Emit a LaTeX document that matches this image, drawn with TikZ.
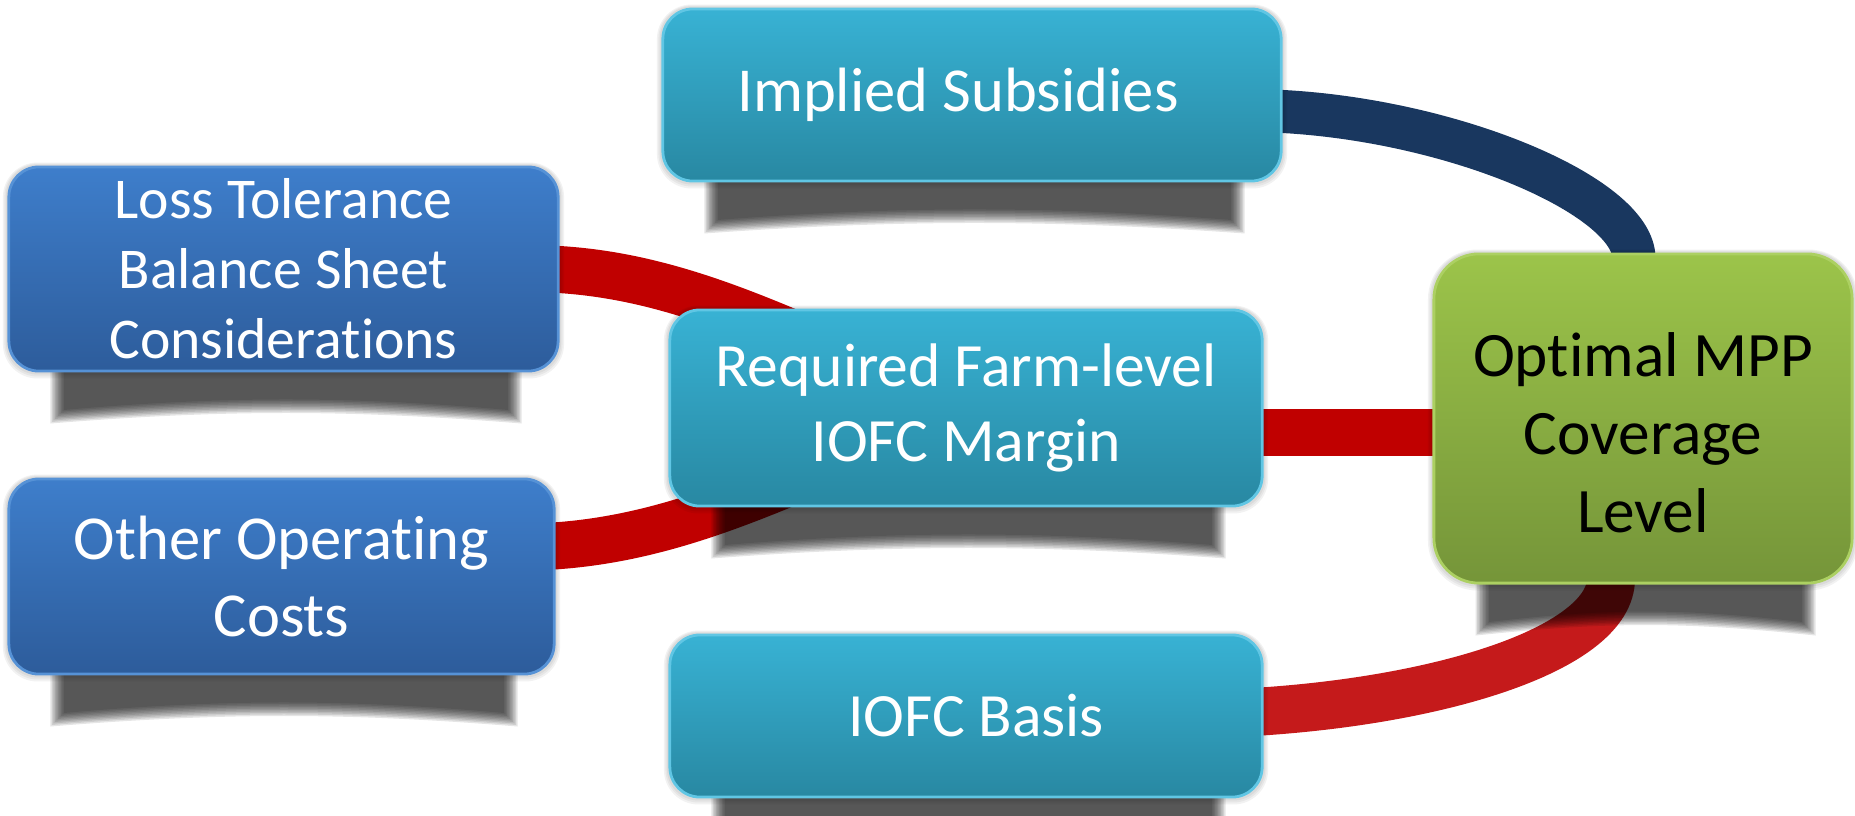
\documentclass[tikz,border=0pt]{standalone}
\usepackage{fontspec}
\setmainfont{Carlito}[Ligatures=NoCommon]
\usetikzlibrary{calc}
\definecolor{blueT}{RGB}{62,126,203}
\definecolor{blueB}{RGB}{45,92,155}
\definecolor{blueE}{RGB}{86,146,214}
\definecolor{cyanT}{RGB}{56,178,212}
\definecolor{cyanB}{RGB}{40,136,162}
\definecolor{cyanE}{RGB}{96,198,228}
\definecolor{greenT}{RGB}{156,196,74}
\definecolor{greenB}{RGB}{117,149,57}
\definecolor{greenE}{RGB}{172,208,98}
\definecolor{linkred}{RGB}{192,0,0}
\definecolor{basisred}{RGB}{197,26,27}
\definecolor{linknavy}{RGB}{25,55,95}
\pgfdeclarelayer{bg}
\pgfdeclarelayer{shadowlayer}
\pgfsetlayers{bg,shadowlayer,main}
\tikzset{
  box/.style={rounded corners=0.3cm, inner sep=0pt, align=center, text=white, line width=0.8pt,
    font=\fontsize{17.5}{21.3}\selectfont},
  bluebox/.style={box, top color=blueT, bottom color=blueB, draw=blueE},
  cyanbox/.style={box, top color=cyanT, bottom color=cyanB, draw=cyanE},
  greenbox/.style={box, top color=greenT, bottom color=greenB, draw=greenE, text=black,
    rounded corners=0.45cm, font=\fontsize{18}{22.2}\selectfont},
  link/.style={line width=0.47cm},
  shadowfill/.style={black, opacity=0.1},
  halofill/.style={black, opacity=0.05},
}
% #1 node name, #2 corner radius of the box
\newcommand\dropshadow[2]{%
  \foreach \h in {1,2,3}{%
    \fill[halofill, rounded corners={#2+\h*0.015cm}]
      ([shift={(-\h*0.015cm,-\h*0.02cm)}]#1.south west) rectangle
      ([shift={(\h*0.015cm,\h*0.01cm)}]#1.north east);
  }
  \foreach \k in {0,...,9}{%
    \pgfmathsetmacro\e{0.07-0.015*\k}
    \fill[shadowfill] let \p1=(#1.south west), \p2=(#1.south east) in
      ({\x1+0.5cm-\e*1cm},{\y1+0.1cm}) -- ({\x2-0.45cm+\e*1cm},{\y1+0.1cm})
      -- ({\x2-0.45cm+\e*1cm},{\y1-0.44cm-\e*1cm})
      .. controls ({\x2-0.45cm-(\x2-\x1)*0.3},{\y1-0.3cm-\e*1cm})
             and ({\x1+0.5cm+(\x2-\x1)*0.3},{\y1-0.3cm-\e*1cm})
      .. ({\x1+0.5cm-\e*1cm},{\y1-0.44cm-\e*1cm}) -- cycle;
  }}
\begin{document}
\begin{tikzpicture}[x=0.01cm,y=-0.01cm]
\useasboundingbox (0,0) rectangle (1855,815);

\node[cyanbox, minimum width=6.18cm, minimum height=1.72cm,
  label={[text=white, align=center, font=\fontsize{17.8}{21.3}\selectfont, xshift=-0.14cm]center:Implied Subsidies}] (imp) at (972,95) {};
\node[bluebox, minimum width=5.49cm, minimum height=2.04cm, font=\fontsize{16.4}{19.9}\selectfont] (loss) at (283.5,269) {Loss Tolerance\\Balance Sheet\\Considerations};
\node[cyanbox, minimum width=5.92cm, minimum height=1.96cm] (req) at (966,408) {Required Farm-level\\IOFC Margin};
\node[bluebox, minimum width=5.45cm, minimum height=1.95cm, font=\fontsize{17.8}{21.9}\selectfont] (other) at (281.5,576.5) {Other Operating\\Costs};
\node[cyanbox, minimum width=5.92cm, minimum height=1.62cm,
  label={[text=white, align=center, font=\fontsize{17.5}{21.3}\selectfont, xshift=0.1cm]center:IOFC Basis}] (basis) at (966,716) {};
\node[greenbox, minimum width=4.18cm, minimum height=3.29cm,
  label={[text=black, align=center, font=\fontsize{18}{22.2}\selectfont, yshift=-0.14cm]center:Optimal MPP\\Coverage\\Level}] (opt) at (1643,418.5) {};

\begin{pgfonlayer}{bg}
  \draw[link, line width=0.43cm, linknavy] ([xshift=-0.1cm,yshift=-0.16cm]imp.east)
     .. controls (1450,118) and (1634,196) .. ([xshift=-0.09cm,yshift=-0.06cm]opt.north);
  \draw[link, linkred] ([xshift=-0.1cm]loss.east)
     .. controls (690,275) and (800,340) .. (req.center);
  \draw[link, linkred] ([xshift=-0.1cm,yshift=0.3cm]other.east)
     .. controls (690,539) and (800,474) .. (req.center);
  \coordinate (m) at ([yshift=-0.24cm]req.east);
  \draw[link, linkred] (m -| req.center) -- (m -| opt.center);
  \draw[link, line width=0.48cm, basisred] ([xshift=-0.1cm,yshift=0.04cm]basis.east)
     .. controls (1450,700) and (1611,646) .. ([xshift=-0.32cm,yshift=0.06cm]opt.south);
\end{pgfonlayer}

\begin{pgfonlayer}{shadowlayer}
  \dropshadow{imp}{0.3cm}
  \dropshadow{loss}{0.3cm}
  \dropshadow{req}{0.3cm}
  \dropshadow{other}{0.3cm}
  \dropshadow{basis}{0.3cm}
  \dropshadow{opt}{0.45cm}
\end{pgfonlayer}
\end{tikzpicture}
\end{document}
